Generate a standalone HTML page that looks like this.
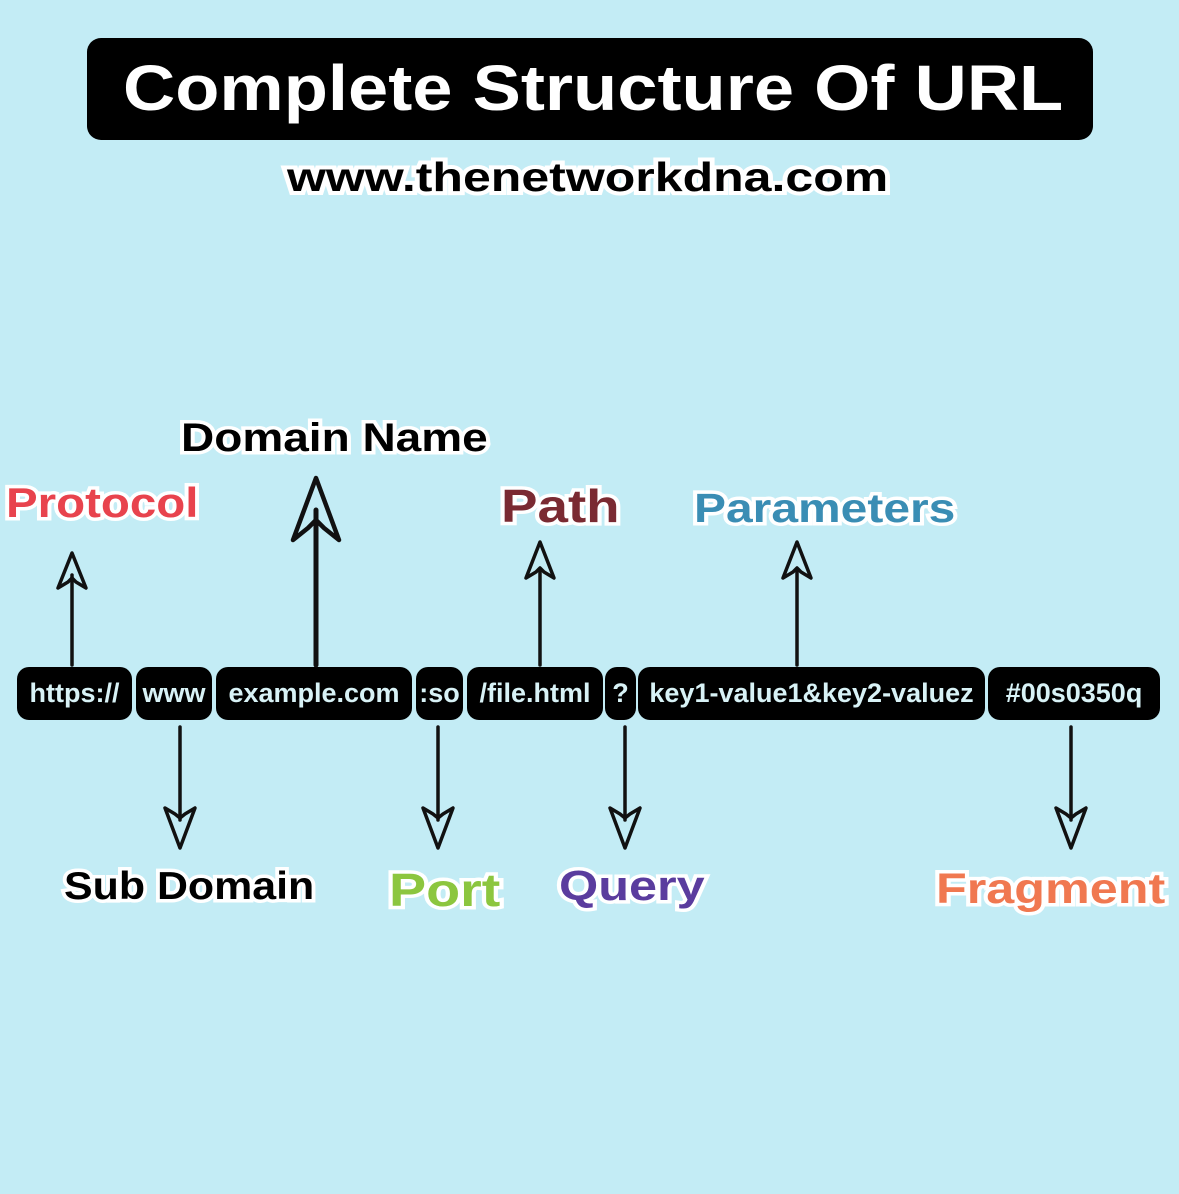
<!DOCTYPE html>
<html><head><meta charset="utf-8"><style>
body{margin:0;width:1179px;height:1194px;background:#c3ecf5;position:relative;overflow:hidden;font-family:"Liberation Sans",sans-serif;}
.title{position:absolute;left:87px;top:38px;width:1006px;height:102px;background:#000;border-radius:14px;}
.tt{position:absolute;left:123px;top:48px;color:#fff;font-weight:bold;font-size:64px;line-height:80px;white-space:nowrap;transform:scaleX(1.13);transform-origin:left;}
.sub{position:absolute;left:287px;top:157px;font-weight:bold;font-size:41px;line-height:1;color:#000;white-space:nowrap;-webkit-text-stroke:8px #fff;paint-order:stroke fill;transform:scaleX(1.22);transform-origin:left;}
.lab{position:absolute;font-weight:bold;white-space:nowrap;-webkit-text-stroke:7px #fff;paint-order:stroke fill;line-height:1;transform-origin:left;}
.box{position:absolute;top:667px;height:53px;background:#000;border-radius:12px;color:#d8f2f6;font-weight:bold;font-size:27px;line-height:53px;text-align:center;white-space:nowrap;}
</style></head><body>
<div class="title"></div>
<div class="tt">Complete Structure Of URL</div>
<div class="sub">www.thenetworkdna.com</div>

<div class="box" style="left:17px;width:115px">https://</div>
<div class="box" style="left:136px;width:76px">www</div>
<div class="box" style="left:216px;width:196px">example.com</div>
<div class="box" style="left:416px;width:47px">:so</div>
<div class="box" style="left:467px;width:136px">/file.html</div>
<div class="box" style="left:605px;width:31px">?</div>
<div class="box" style="left:638px;width:347px">key1-value1&amp;key2-valuez</div>
<div class="box" style="left:988px;width:172px">#00s0350q</div>

<svg width="1179" height="1194" style="position:absolute;left:0;top:0" fill="none" stroke="#111" stroke-width="3.5" stroke-linejoin="round" stroke-linecap="round">
<path d="M72 665 L72 575"/><path d="M72 553 L58 588 L68 582 L72 578 L76 582 L86 588 Z"/>
<path d="M316 665 L316 510" stroke-width="5"/><path d="M316 478 L293 540 L308 528 L316 520 L324 528 L339 540 Z" stroke-width="4.5"/>
<path d="M540 665 L540 570"/><path d="M540 542 L526 578 L536 572 L540 568 L544 572 L554 578 Z"/>
<path d="M797 665 L797 570"/><path d="M797 542 L783 578 L793 572 L797 568 L801 572 L811 578 Z"/>
<path d="M180 727 L180 820"/><path d="M180 848 L165 808 L175 814 L180 818 L185 814 L195 808 Z"/>
<path d="M438 727 L438 820"/><path d="M438 848 L423 808 L433 814 L438 818 L443 814 L453 808 Z"/>
<path d="M625 727 L625 820"/><path d="M625 848 L610 808 L620 814 L625 818 L630 814 L640 808 Z"/>
<path d="M1071 727 L1071 820"/><path d="M1071 848 L1056 808 L1066 814 L1071 818 L1076 814 L1086 808 Z"/>
</svg>

<div class="lab" style="left:6px;top:482px;font-size:42px;color:#e8434d;transform:scaleX(1.13)">Protocol</div>
<div class="lab" style="left:181px;top:418px;font-size:40px;color:#000;transform:scaleX(1.15)">Domain Name</div>
<div class="lab" style="left:501px;top:483px;font-size:46px;color:#7a2a32;transform:scaleX(1.19)">Path</div>
<div class="lab" style="left:694px;top:488px;font-size:41px;color:#3a8db4;transform:scaleX(1.17)">Parameters</div>
<div class="lab" style="left:64px;top:867px;font-size:39px;color:#000;transform:scaleX(1.1)">Sub Domain</div>
<div class="lab" style="left:389px;top:867px;font-size:46px;color:#8cc63f;transform:scaleX(1.21)">Port</div>
<div class="lab" style="left:559px;top:865px;font-size:42px;color:#5a3c9e;transform:scaleX(1.2)">Query</div>
<div class="lab" style="left:936px;top:868px;font-size:43px;color:#f07850;transform:scaleX(1.17)">Fragment</div>
</body></html>
